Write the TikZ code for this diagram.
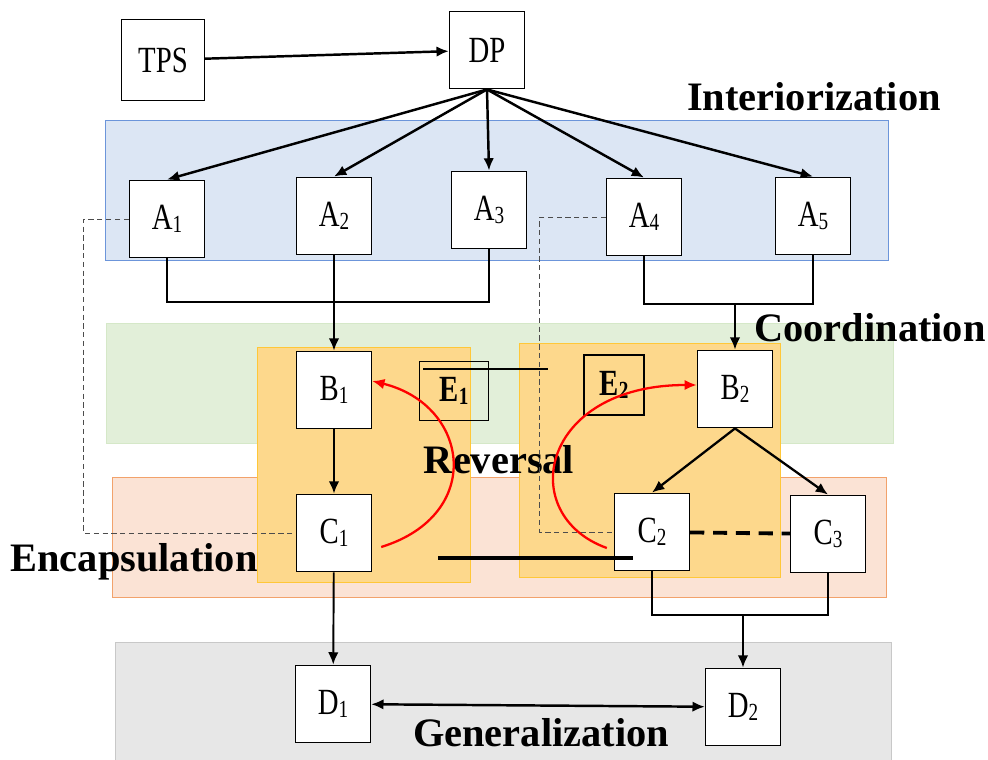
\documentclass[tikz,border=0pt]{standalone}
\usepackage{fontspec}
\setmainfont{Liberation Serif}
\usetikzlibrary{arrows.meta}
\newcommand\idx[1]{\raisebox{-0.2ex}{\fontsize{14}{14}\selectfont #1}}
\newcommand\boxtxt[1]{\scalebox{0.78}[1]{\fontsize{21}{21}\selectfont #1}}
\definecolor{bandblue}{HTML}{DCE6F4}
\definecolor{lineblue}{HTML}{6C95DA}
\definecolor{bandgreen}{HTML}{E2EFD9}
\definecolor{linegreen}{HTML}{D5E8C8}
\definecolor{bandorange}{HTML}{FBE3D5}
\definecolor{lineorange}{HTML}{F2A26B}
\definecolor{bandyellow}{HTML}{FDD88C}
\definecolor{lineyellow}{HTML}{FFC738}
\definecolor{bandgray}{HTML}{E7E7E7}
\definecolor{linegray}{HTML}{C8C8C8}
\begin{document}
\begin{tikzpicture}[x=0.02cm,y=-0.02cm,
        box/.style={draw,fill=white,line width=0.8pt,minimum width=1.5cm,minimum height=1.55cm,inner sep=0pt},
        lab/.style={font=\bfseries\fontsize{23}{23}\selectfont},
        arr/.style={-{Latex[length=7pt,width=6pt]}},
        redarc/.style={arr,red,line width=1.3pt}]
        \useasboundingbox (0,0) rectangle (988,760);
        \path[draw=lineblue,fill=bandblue] (105,120) rectangle (888,260);
        \path[draw=linegreen,fill=bandgreen] (106,323) rectangle (893,443);
        \path[draw=lineorange,fill=bandorange] (112,477) rectangle (886,597);
        \path[draw=linegray,fill=bandgray] (115,642) rectangle (891,762);
        \path[draw=lineyellow,fill=bandyellow] (257,347) rectangle (470,582);
        \path[draw=lineyellow,fill=bandyellow] (519,343) rectangle (780,577);
        \node[box,minimum width=1.66cm,minimum height=1.62cm] (tps) at (163,60) {\boxtxt{TPS}};
        \node[box] (dp) at (487,50) {\boxtxt{DP}};
        \node[box] (a1) at (167,219) {\boxtxt{A\idx{1}}};
        \node[box] (a2) at (334,216) {\boxtxt{A\idx{2}}};
        \node[box] (a3) at (489,210) {\boxtxt{A\idx{3}}};
        \node[box] (a4) at (644,217) {\boxtxt{A\idx{4}}};
        \node[box] (a5) at (813,216) {\boxtxt{A\idx{5}}};
        \node[box] (b1) at (334,390) {\boxtxt{B\idx{1}}};
        \node[box] (c1) at (334,533) {\boxtxt{C\idx{1}}};
        \node[box,minimum width=1.38cm,minimum height=1.18cm,fill=none] (e1) at (454,391) {\boxtxt{\bfseries E\idx{1}}};
        \node[box,minimum width=1.2cm,minimum height=1.2cm,fill=none] (e2) at (614,385) {\boxtxt{\bfseries E\idx{2}}};
        \node[box] (b2) at (735,389) {\boxtxt{B\idx{2}}};
        \node[box] (c2) at (652,532) {\boxtxt{C\idx{2}}};
        \node[box] (c3) at (828,534) {\boxtxt{C\idx{3}}};
        \node[box] (d1) at (333,704) {\boxtxt{D\idx{1}}};
        \node[box] (d2) at (743,707) {\boxtxt{D\idx{2}}};
        \node[lab] (int) at (814,97) {Interiorization};
        \node[lab] (crd) at (870,328) {Coordination};
        \node[lab] (rev) at (499,460) {Reversal};
        \node[lab] (enc) at (134,562) {Encapsulation};
        \node[lab] (gen) at (541,733) {Generalization};
        \coordinate (j1) at (334,302);
        \coordinate (j2) at (735,304);
        \coordinate (j3) at (743,615);
        \draw[arr,line width=1.4pt] (tps) -- (dp);
        \foreach \n in {a1,a2,a3,a4,a5}
            \draw[arr,line width=1.4pt] (dp.south) -- (\n.north);
        \draw[line width=1.1pt] (a1.south) |- (j1) -| (a3.south);
        \draw[arr,line width=1.1pt] (a2) -- (b1);
        \draw[line width=1.1pt] (a4.south) |- (j2) -| (a5.south);
        \draw[arr,line width=1.1pt] (j2) -- (b2);
        \draw[gray!60!black,dash pattern=on 3pt off 2pt] (a1.west) -- ++(-45,0) |- (c1.west);
        \draw[gray!60!black,dash pattern=on 3pt off 2pt] (a4.west) -- ++(-66,0) |- (c2.west);
        \draw[arr,line width=1.1pt] (b1) -- (c1);
        \draw[arr,line width=1.3pt] (b2.south) -- (c2.north);
        \draw[arr,line width=1.3pt] (b2.south) -- (c3.north);
        \draw[line width=2.2pt,dash pattern=on 8pt off 5pt] (c2) -- (c3);
        \draw[line width=1.1pt] (c2.south) |- (j3) -| (c3.south);
        \draw[arr,line width=1.1pt] (j3) -- (d2);
        \draw[arr,line width=1.1pt] (c1) -- (d1);
        \draw[{Latex[length=7pt,width=6pt]}-{Latex[length=7pt,width=6pt]},line width=1.4pt] (d1) -- (d2);
        \draw[line width=1pt] (423,369) -- (548,369);
        \draw[line width=1.8pt] (438,558) -- (633,558);
        \draw[redarc] ([shift={(9,14)}]c1.east) .. controls (485,515) and (470,405) .. ([shift={(0,-9)}]b1.east);
        \draw[redarc] ([shift={(-7,16)}]c2.west) .. controls (515,515) and (540,385) .. ([shift={(0,-4)}]b2.west);
\end{tikzpicture}
\end{document}
